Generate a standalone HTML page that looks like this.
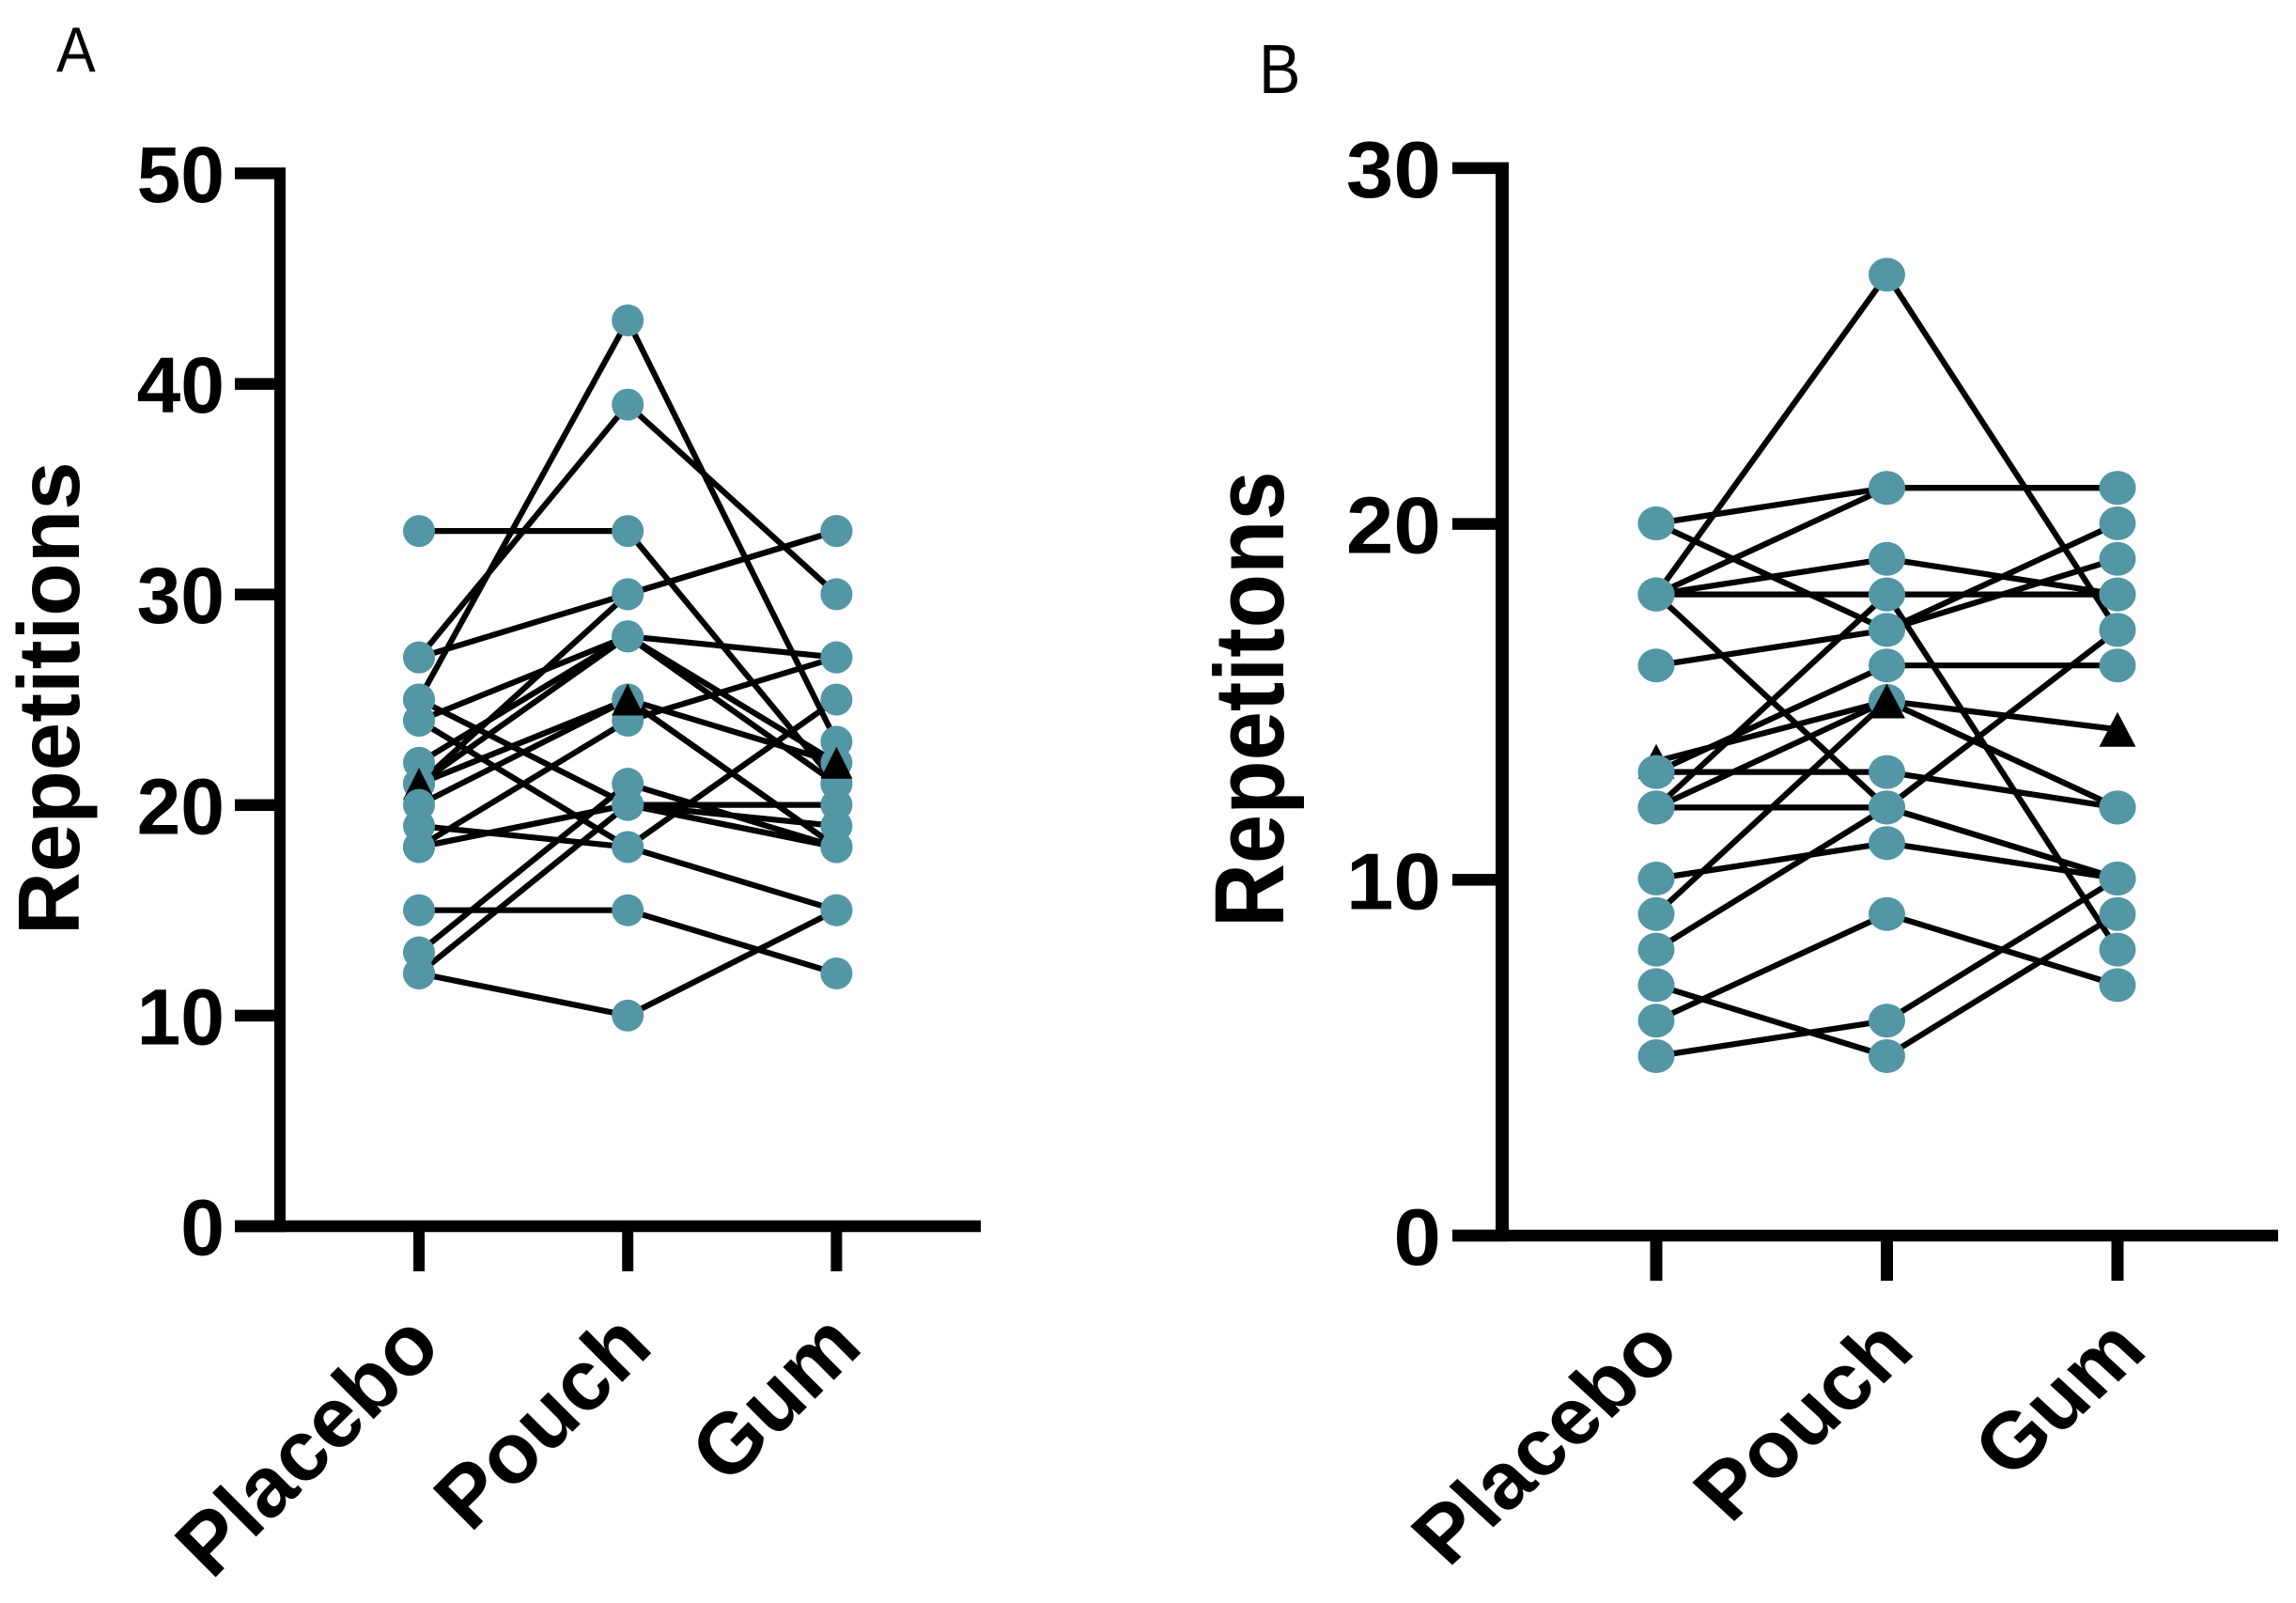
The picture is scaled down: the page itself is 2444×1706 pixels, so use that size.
<!DOCTYPE html>
<html lang="en">
<head>
<meta charset="utf-8">
<title>Repetitions by condition</title>
<style>
html,body{margin:0;padding:0;background:#fff;}
svg{display:block;}
text{font-family:"Liberation Sans",Arial,sans-serif;fill:#000;}
.b{font-weight:700;}
</style>
</head>
<body>
<svg id="fig" xmlns="http://www.w3.org/2000/svg" width="2444" height="1706" viewBox="0 0 2444 1706">
<rect x="0" y="0" width="2444" height="1706" fill="#fff"/>
<g id="panelA"></g>
<g id="panelB"></g>
</svg>
<script>
// Shared categories
var categories = ['Placebo', 'Pouch', 'Gum'];

// Panel A values (index-aligned subjects)
var aPlacebo = [33, 27, 25, 27, 24, 22, 21, 21, 20, 21, 18, 18, 19, 15, 13, 12, 12, 25, 24, 18];
var aPouch   = [33, 39, 43, 30, 28, 28, 30, 28, 25, 25, 24, 20, 18, 15, 21, 20, 10, 20, 18, 20];
var aGum     = [21, 30, 23, 33, 27, 22, 33, 21, 18, 18, 27, 20, 25, 12, 18, 19, 15, 18, 15, 18];
var aMean    = [21, 25, 22];
var aTicks   = [0, 10, 20, 30, 40, 50];

// Panel B values (index-aligned subjects)
var bPlacebo = [20, 20, 18, 18, 18, 18, 18, 16, 13, 13, 12, 12, 12, 10, 9, 8, 7, 6, 5];
var bPouch   = [21, 17, 27, 21, 19, 18, 12, 17, 16, 13, 15, 12, 18, 11, 15, 12, 5, 9, 6];
var bGum     = [21, 20, 17, 21, 18, 18, 10, 19, 16, 12, 12, 17, 8, 10, 12, 10, 9, 7, 10];
var bMean    = [13.3, 15, 14.2];
var bTicks   = [0, 10, 20, 30];

var NS = 'http://www.w3.org/2000/svg';
var TEAL = '#5396a5';

function el(parent, tag, attrs) {
  var e = document.createElementNS(NS, tag);
  for (var k in attrs) { e.setAttribute(k, attrs[k]); }
  parent.appendChild(e);
  return e;
}

function drawPanel(root, cfg, placebo, pouch, gum, mean, ticks, key) {
  function markY(v) { return cfg.markY0 - cfg.markUnit * v; }
  function axisY(v) { return cfg.axisY0 - cfg.axisUnit * v; }
  function colX(i) { return cfg.colX0 + cfg.colStep * i; }
  var cols = [placebo, pouch, gum];

  // Lines sit beneath every marker
  for (var s = 0; s < placebo.length; s++) {
    var pts = [];
    for (var c = 0; c < 3; c++) { pts.push(colX(c) + ',' + markY(cols[c][s])); }
    var pl = el(root, 'polyline', {points: pts.join(' '), fill: 'none', stroke: '#000', 'stroke-width': cfg.lineW, 'stroke-linejoin': 'round'});
    
    
  }
  var mpts = [];
  for (var mc = 0; mc < 3; mc++) { mpts.push(colX(mc) + ',' + markY(mean[mc])); }
  var ml = el(root, 'polyline', {points: mpts.join(' '), fill: 'none', stroke: '#000', 'stroke-width': cfg.lineW});
  
  

  // Markers per column; the placebo triangle sits behind lower circles
  for (var col = 0; col < 3; col++) {
    var vals = cols[col].slice().sort(function (a, b) { return b - a; });
    var before = [], after = [];
    for (var i = 0; i < vals.length; i++) {
      if (col === 0 && vals[i] < mean[col]) { after.push(vals[i]); } else { before.push(vals[i]); }
    }
    drawCircles(before, col);
    var mx = colX(col), my = markY(mean[col]);
    var tri = el(root, 'polygon', {
      points: mx + ',' + (my - cfg.triH / 2) + ' ' + (mx + cfg.rx) + ',' + (my + cfg.triH / 2) + ' ' + (mx - cfg.rx) + ',' + (my + cfg.triH / 2),
      fill: '#000'
    });
    
    
    drawCircles(after, col);
  }
  function drawCircles(list, col) {
    for (var j = 0; j < list.length; j++) {
      var d = el(root, 'ellipse', {cx: colX(col), cy: markY(list[j]), rx: cfg.rx, ry: cfg.ry, fill: TEAL});
      
      
    }
  }

  // Axes
  var yAxis = el(root, 'rect', {x: cfg.axisL, y: axisY(ticks[ticks.length - 1]) - cfg.tickT / 2, width: cfg.axisW, height: axisY(0) - axisY(ticks[ticks.length - 1]) + cfg.tickT, fill: '#000'});
  
  
  var xAxis = el(root, 'rect', {x: cfg.tickL, y: axisY(0) - cfg.tickT / 2, width: cfg.xEnd - cfg.tickL, height: cfg.tickT, fill: '#000'});
  
  

  ticks.forEach(function (t) {
    var r = el(root, 'rect', {x: cfg.tickL, y: axisY(t) - cfg.tickT / 2, width: cfg.axisL - cfg.tickL, height: cfg.tickT, fill: '#000'});
    
    
    var l = el(root, 'text', {'class': 'b', 'text-anchor': 'end', 'font-size': cfg.tickFont,
      transform: 'translate(' + cfg.tickLabelX + ',' + (axisY(t) + cfg.tickLabelDy) + ') scale(' + cfg.tickSx + ',1)'});
    l.textContent = String(t);
    
    
  });

  categories.forEach(function (name, i) {
    var xt = el(root, 'rect', {x: colX(i) - cfg.xTickW / 2, y: axisY(0), width: cfg.xTickW, height: cfg.xTickEnd - axisY(0), fill: '#000'});
    
    
    var lbl = el(root, 'text', {'class': 'b', 'text-anchor': 'end', 'font-size': cfg.catFont,
      transform: 'translate(' + (colX(i) + cfg.catDx[i]) + ',' + cfg.catY + ') scale(1,' + cfg.catSy + ') rotate(-45)'});
    lbl.textContent = name;
    
    
  });

  var title = el(root, 'text', {'class': 'b', 'font-size': cfg.titleFont,
    transform: 'translate(' + cfg.titleX + ',' + cfg.titleY + ') rotate(-90) scale(1,' + cfg.titleSy + ')'});
  title.textContent = cfg.title;
  
  

  var letter = el(root, 'text', {'font-size': cfg.letterFont,
    transform: 'translate(' + cfg.letterX + ',' + cfg.letterY + ') scale(' + cfg.letterSx + ',1)'});
  letter.textContent = cfg.letter;
  
  
}

drawPanel(document.getElementById('panelA'), {
  markY0: 1305, markUnit: 22.42, axisY0: 1305, axisUnit: 22.41,
  colX0: 446, colStep: 222.2, rx: 17, ry: 17, triH: 34, lineW: 6.2,
  axisL: 292, axisW: 12, tickL: 250, xEnd: 1044, tickT: 12.5, xTickW: 12, xTickEnd: 1353,
  tickFont: 84, tickLabelX: 239, tickLabelDy: 30.5, tickSx: 1,
  catFont: 91, catDx: [26, 29, 30], catY: 1436, catSy: 1,
  title: 'Repetitions', titleFont: 92.5, titleX: 84, titleY: 995, titleSy: 1,
  letter: 'A', letterFont: 68, letterX: 60, letterY: 76, letterSx: 0.92
}, aPlacebo, aPouch, aGum, aMean, aTicks, 'panel-a');

drawPanel(document.getElementById('panelB'), {
  markY0: 1313, markUnit: 37.8, axisY0: 1315, axisUnit: 37.87,
  colX0: 1763, colStep: 245.5, rx: 19.5, ry: 18, triH: 37, lineW: 6.2,
  axisL: 1592, axisW: 14, tickL: 1546, xEnd: 2425, tickT: 12.5, xTickW: 13, xTickEnd: 1363,
  tickFont: 85, tickLabelX: 1534, tickLabelDy: 31, tickSx: 1.07,
  catFont: 92, catDx: [28, 32, 34], catY: 1440, catSy: 0.92,
  title: 'Repetitons', titleFont: 94, titleX: 1366, titleY: 987, titleSy: 1.115,
  letter: 'B', letterFont: 74, letterX: 1340, letterY: 99, letterSx: 0.9
}, bPlacebo, bPouch, bGum, bMean, bTicks, 'panel-b');
</script>
</body>
</html>
